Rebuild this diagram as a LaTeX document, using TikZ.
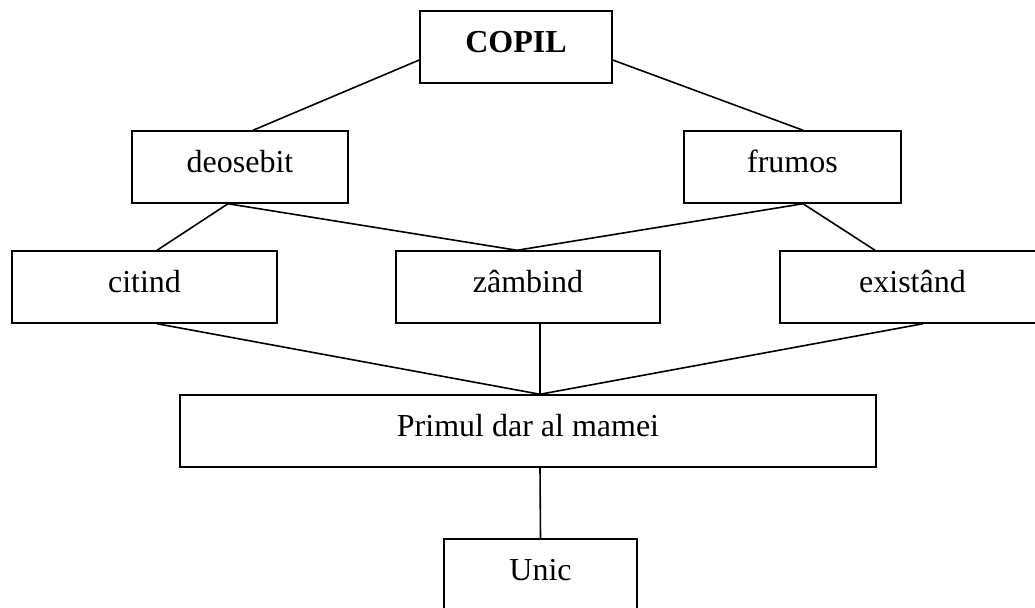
\documentclass[tikz,border=0pt]{standalone}
\usepackage{tikz}
\usepackage{fontspec}
\setmainfont{Liberation Serif}
\usetikzlibrary{positioning}

\begin{document}
\begin{tikzpicture}[x=0.75pt, y=-0.75pt,
		every node/.style={rectangle, draw, line width=1.1pt, minimum height=54pt,
			font=\fontsize{24}{28}\selectfont, text height=16pt, text depth=8.5pt}
		]
		\useasboundingbox (0,0) rectangle (1035,607);
		\node[minimum width=144pt, font=\fontsize{24}{28}\selectfont\bfseries] (copil) at (516,47) {COPIL};
		\node[minimum width=162pt] (deo) at (240,167) {deosebit};
		\node[minimum width=162.75pt] (fru) at (792.5,167) {frumos};
		\node[minimum width=198.75pt] (cit) at (144.5,287) {citind};
		\node[minimum width=198pt] (zam) at (528,287) {zâmbind};
		\node[minimum width=198.75pt] (exi) at (912.5,287) {existând};
		\node[minimum width=522pt] (dar) at (528,431) {Primul dar al mamei};
		\node[minimum width=144.75pt] (uni) at (540.5,575) {Unic};
		\draw[line width=1.2pt] ([yshift=-9.75pt]copil.west) to ([xshift=9.75pt]deo.north);
		\draw[line width=1.2pt] ([yshift=-9.75pt]copil.east) to ([xshift=7.9pt]fru.north);
		\draw[line width=1.2pt] ([xshift=-9pt]deo.south) to ([xshift=9.4pt]cit.north);
		\draw[line width=1.2pt] ([xshift=-9pt]deo.south) to ([xshift=-8.25pt]zam.north);
		\draw[line width=1.2pt] ([xshift=7.9pt]fru.south) to ([xshift=-8.25pt]zam.north);
		\draw[line width=1.2pt] ([xshift=7.9pt]fru.south) to ([xshift=-28.1pt]exi.north);
		\draw[line width=1.2pt] ([xshift=9.4pt]cit.south) to ([xshift=9pt]dar.north);
		\draw[line width=1.2pt] ([xshift=9pt]zam.south) to ([xshift=9pt]dar.north);
		\draw[line width=1.2pt] ([xshift=7.9pt]exi.south) to ([xshift=9pt]dar.north);
		\draw[line width=1.2pt] ([xshift=9pt]dar.south) to (uni.north);
	\end{tikzpicture}
\end{document}
